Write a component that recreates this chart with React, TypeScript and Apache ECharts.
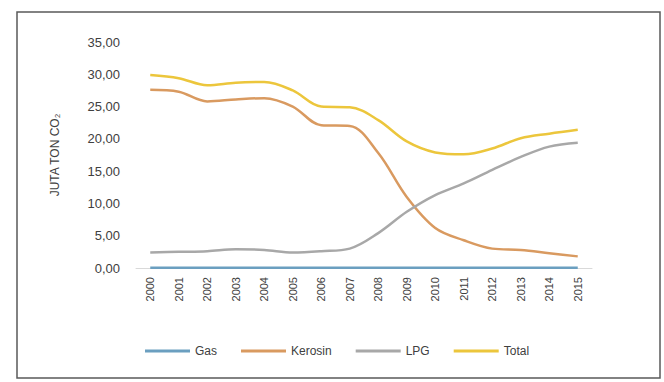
import React, { useEffect, useRef } from "react";
import * as echarts from "echarts";

const years = ["2000","2001","2002","2003","2004","2005","2006","2007","2008","2009","2010","2011","2012","2013","2014","2015"];
const gas = [0.05,0.05,0.05,0.05,0.05,0.05,0.05,0.05,0.05,0.05,0.05,0.05,0.05,0.05,0.05,0.05];
const kerosin = [27.6,27.3,25.8,26.1,26.3,25.0,22.1,22.0,17.8,11.0,6.2,4.3,3.0,2.8,2.3,1.8];
const lpg = [2.4,2.5,2.6,2.9,2.8,2.4,2.6,3.0,5.4,8.7,11.3,13.1,15.2,17.2,18.8,19.4];
const total = [29.9,29.4,28.3,28.7,28.8,27.5,25.0,24.9,22.9,19.6,17.9,17.6,18.5,20.1,20.8,21.4];
const seriesNames = ["Gas","Kerosin","LPG","Total"];
const yTicks = { min: 0, max: 35, interval: 5 };

const FONT = "Liberation Sans";
const TEXT = "#404040";

export default function App() {
  const ref = useRef<HTMLDivElement>(null);
  useEffect(() => {
    if (!ref.current) return;
    const chart = echarts.init(ref.current, null, { renderer: "svg" });
    const colors = ["#6b9fc0", "#d99a60", "#a8a8a8", "#ecc63c"];
    const data = [gas, kerosin, lpg, total];
    chart.setOption({
      animation: false,
      backgroundColor: "#ffffff",
      textStyle: { fontFamily: FONT },
      grid: { left: 136, right: 72, top: 42, bottom: 114, containLabel: false },
      xAxis: {
        type: "category",
        data: years,
        boundaryGap: true,
        axisLine: { show: true, lineStyle: { color: "#d9d9d9", width: 1 } },
        axisTick: { show: false },
        axisLabel: { rotate: 90, color: TEXT, fontSize: 11, fontFamily: FONT, margin: 9, interval: 0 },
      },
      yAxis: {
        type: "value",
        min: yTicks.min,
        max: yTicks.max,
        interval: yTicks.interval,
        name: "JUTA TON CO₂",
        nameLocation: "middle",
        nameRotate: 90,
        nameGap: 75,
        nameTextStyle: { color: TEXT, fontSize: 12, fontFamily: FONT },
        axisLine: { show: false },
        axisTick: { show: false },
        splitLine: { show: false },
        axisLabel: {
          color: TEXT,
          fontSize: 13,
          fontFamily: FONT,
          margin: 16,
          formatter: (v: number) => v.toFixed(2).replace(".", ","),
        },
      },
      legend: {
        bottom: 20,
        left: 140,
        icon: "rect",
        itemWidth: 45,
        itemHeight: 3,
        itemGap: 24,
        textStyle: { color: TEXT, fontSize: 12, fontFamily: FONT },
        data: seriesNames,
      },
      series: seriesNames.map((n, i) => ({
        name: n,
        type: "line",
        data: data[i],
        symbol: "none",
        smooth: 0.35,
        color: colors[i],
        lineStyle: { color: colors[i], width: 2.5 },
        z: i === 0 ? 1 : 2 + i,
      })),
      graphic: [
        {
          type: "rect",
          shape: { x: 17, y: 12, width: 643, height: 366 },
          style: { fill: "none", stroke: "#5a5a5a", lineWidth: 1.5 },
          silent: true,
        },
      ],
    });
    return () => chart.dispose();
  }, []);
  return <div ref={ref} style={{ position: "fixed", left: 0, top: 0, width: 664, height: 382 }} />;
}
